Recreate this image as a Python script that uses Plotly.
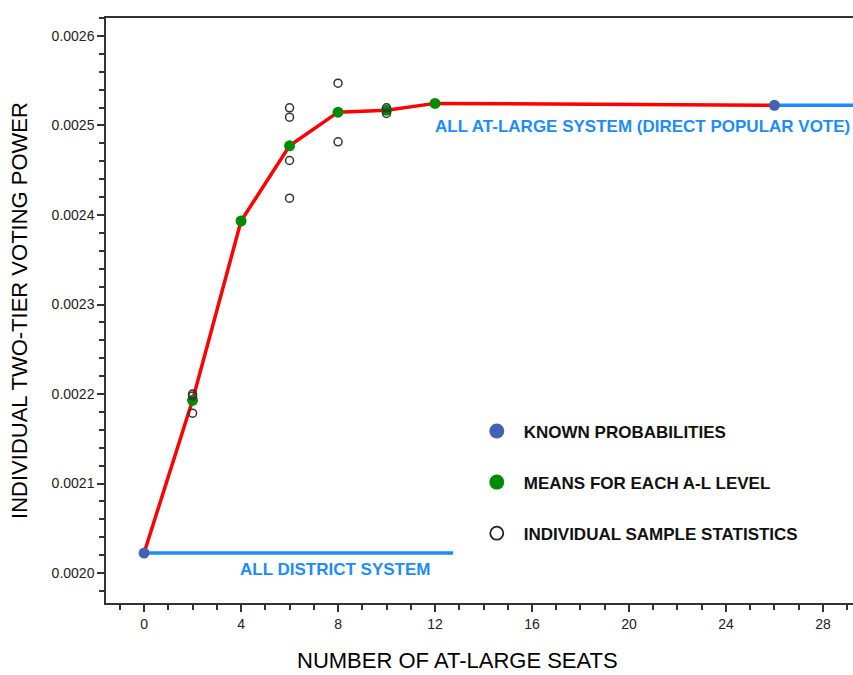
import plotly.graph_objects as go

# Known two-tier voting power at the two ends of the scale
known_x = [0, 26]
known_y = [0.0020223, 0.0025226]

# Mean voting power for each at-large level
mean_x = [2, 4, 6, 8, 10, 12]
mean_y = [0.0021930, 0.0023933, 0.0024773, 0.0025149, 0.0025170, 0.0025247]

# Individual sample statistics
sample_x = [2, 2, 2, 6, 6, 6, 6, 8, 8, 10, 10]
sample_y = [0.0022000, 0.0021978, 0.0021786,
            0.0025198, 0.0025093, 0.0024609, 0.0024188,
            0.0025473, 0.0024818,
            0.0025198, 0.0025135]

# Reference-line extents (in seats)
district_line_x = [0, 12.75]
at_large_line_x = [26, 31]

x_ticks = [0, 4, 8, 12, 16, 20, 24, 28]
y_ticks = [0.0020, 0.0021, 0.0022, 0.0023, 0.0024, 0.0025, 0.0026]

LINE_BLUE = "#1E8CFF"
DOT_BLUE = "#4361B5"
GREEN = "#008A00"
RED = "#FF0000"
AXIS = "#333333"
FONT = "Liberation Sans, Arial, sans-serif"

fig = go.Figure()

# Horizontal reference lines for the two limiting systems
fig.add_trace(go.Scatter(x=district_line_x, y=[known_y[0]] * 2, mode="lines",
                         line=dict(color=LINE_BLUE, width=3.5),
                         showlegend=False, hoverinfo="skip"))
fig.add_trace(go.Scatter(x=at_large_line_x, y=[known_y[1]] * 2, mode="lines",
                         line=dict(color=LINE_BLUE, width=3.5),
                         showlegend=False, hoverinfo="skip"))

# Curve through the means, anchored on the known end points
fig.add_trace(go.Scatter(x=[known_x[0]] + mean_x + [known_x[1]],
                         y=[known_y[0]] + mean_y + [known_y[1]],
                         mode="lines", line=dict(color=RED, width=3.5),
                         showlegend=False, hoverinfo="skip"))

fig.add_trace(go.Scatter(x=mean_x, y=mean_y, mode="markers",
                         marker=dict(color=GREEN, size=11),
                         showlegend=False))
fig.add_trace(go.Scatter(x=sample_x, y=sample_y, mode="markers",
                         marker=dict(color="rgba(0,0,0,0)", size=8,
                                     line=dict(color=AXIS, width=1.5)),
                         showlegend=False))
fig.add_trace(go.Scatter(x=known_x, y=known_y, mode="markers",
                         marker=dict(color=DOT_BLUE, size=11),
                         showlegend=False))

# Legend entries
legend_items = [
    ("KNOWN PROBABILITIES", dict(color=DOT_BLUE, size=15)),
    ("MEANS FOR EACH A-L LEVEL", dict(color=GREEN, size=15)),
    ("INDIVIDUAL SAMPLE STATISTICS", dict(color="white", size=13,
                                          line=dict(color="#222222", width=1.8))),
]
for i, (name, mk) in enumerate(legend_items):
    fig.add_trace(go.Scatter(x=[None], y=[None], mode="markers",
                             name=f"<b>{name}</b>",
                             marker=mk, legendgroup=f"g{i}", showlegend=True))

fig.add_annotation(x=7.86, y=0.0020034, text="<b>ALL DISTRICT SYSTEM</b>",
                   showarrow=False, xanchor="center", yanchor="middle",
                   font=dict(family=FONT, size=17, color=LINE_BLUE))
fig.add_annotation(x=11.92, y=0.0024989,
                   text="<b>ALL AT-LARGE SYSTEM (DIRECT POPULAR VOTE)</b>",
                   showarrow=False, xanchor="left", yanchor="middle",
                   font=dict(family=FONT, size=17, color=LINE_BLUE))

# X-axis title
fig.add_annotation(x=0.471, y=-0.098, xref="paper", yref="paper",
                   text="NUMBER OF AT-LARGE SEATS", showarrow=False,
                   xanchor="center", yanchor="middle",
                   font=dict(family=FONT, size=22, color="#000000"))

fig.update_layout(
    width=853, height=675,
    margin=dict(l=106, r=0, t=18, b=72),
    paper_bgcolor="white", plot_bgcolor="white",
    font=dict(family=FONT, color="#222222"),
    legend=dict(x=0.487, y=0.324, xanchor="left", yanchor="top",
                bgcolor="rgba(0,0,0,0)", tracegroupgap=26,
                font=dict(family=FONT, size=17, color="#111111"),
                itemwidth=44),
    xaxis=dict(range=[-1.57, 29.24], tickmode="array", tickvals=x_ticks,
               ticktext=[str(v) for v in x_ticks],
               ticks="outside", ticklen=7, tickwidth=1.5, tickcolor=AXIS,
               minor=dict(dtick=1, tick0=0, ticks="outside", ticklen=5,
                          tickwidth=1.5, tickcolor=AXIS),
               showline=True, linecolor=AXIS, linewidth=1.5, mirror=True,
               showgrid=False, zeroline=False,
               tickfont=dict(size=14, color="#222222")),
    yaxis=dict(range=[0.0019665, 0.0026201], tickmode="array", tickvals=y_ticks,
               ticktext=[f"{v:.4f}" for v in y_ticks],
               ticks="outside", ticklen=7, tickwidth=1.5, tickcolor=AXIS,
               minor=dict(dtick=0.00002, tick0=0.002, ticks="outside", ticklen=5,
                          tickwidth=1.5, tickcolor=AXIS),
               showline=True, linecolor=AXIS, linewidth=1.5,
               showgrid=False, zeroline=False,
               tickfont=dict(size=14, color="#222222"),
               title=dict(text="INDIVIDUAL TWO-TIER VOTING POWER", standoff=18,
                          font=dict(size=22, color="#000000"))),
)

fig.write_html("out.html")
